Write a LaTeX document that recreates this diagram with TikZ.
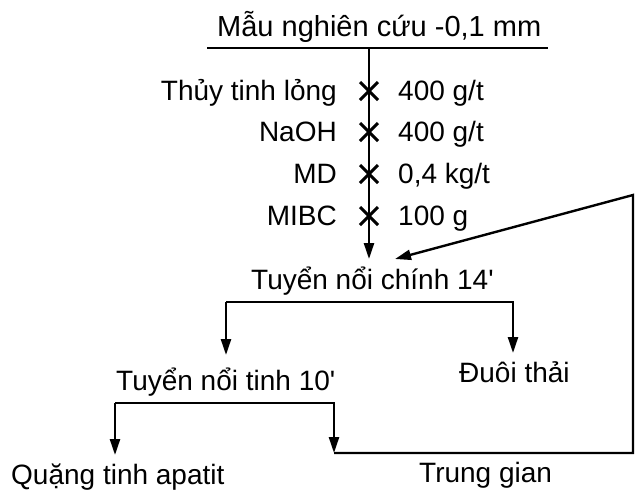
\documentclass[tikz,border=0pt]{standalone}
\usepackage{fontspec}
\setmainfont{Liberation Sans}
\usetikzlibrary{arrows.meta}
\begin{document}
\begin{tikzpicture}[x=1pt,y=-1pt,line width=2.4pt,
  lbl/.style={inner sep=0pt,font=\fontsize{28}{32}\selectfont},
  ttl/.style={inner sep=0pt,font=\fontsize{29}{33}\selectfont},
  arr/.style={-{Triangle[length=16pt,width=10pt]}},
  xmark/.style={line width=3pt}]
\useasboundingbox (0,0) rectangle (635,491);
% title
\node[ttl,anchor=base west] (title) at (216,36) {Mẫu nghiên cứu -0,1 mm};
\coordinate (tl) at (207,48);
\coordinate (tr) at (548,48);
\coordinate (top) at (369,48);
\draw (tl) -- (tr);
% reagents
\node[lbl,anchor=base east] (r1) at (338,100) {Thủy tinh lỏng};
\node[lbl,anchor=base east] (r2) at (338,141) {NaOH};
\node[lbl,anchor=base east] (r3) at (338,183) {MD};
\node[lbl,anchor=base east] (r4) at (338,225) {MIBC};
\node[lbl,anchor=base west] (d1) at (397,100) {400 g/t};
\node[lbl,anchor=base west] (d2) at (397,141) {400 g/t};
\node[lbl,anchor=base west] (d3) at (397,183) {0,4 kg/t};
\node[lbl,anchor=base west] (d4) at (397,225) {100 g};
\foreach \yy in {91,132,174,216}{
  \draw[xmark] (360,\yy-9) -- (378,\yy+9);
  \draw[xmark] (378,\yy-9) -- (360,\yy+9);
}
\coordinate (maintip) at (369,259);
\draw[arr] (top) -- (maintip);
% main flotation
\node[lbl,anchor=base west] (main) at (250,289) {Tuyển nổi chính 14\textquotesingle};
\coordinate (b1) at (226,302);
\coordinate (b2) at (513,302);
\coordinate (t1) at (226,355);
\coordinate (t2) at (513,353);
\draw[arr] (b1) -- (t1);
\draw[arr] (b1) -- (b2) -- (t2);
\node[lbl,anchor=base west] (clean) at (115,390) {Tuyển nổi tinh 10\textquotesingle};
\node[lbl,anchor=base west] (tail) at (458,382) {Đuôi thải};
% cleaner
\coordinate (c1) at (115,403);
\coordinate (c2) at (334,403);
\coordinate (ct1) at (115,455);
\coordinate (ct2) at (334,453);
\draw[arr] (c1) -- (ct1);
\draw[arr] (c1) -- (c2) -- (ct2);
\node[lbl,anchor=base west] (conc) at (10,484) {Quặng tinh apatit};
\node[lbl,anchor=base west] (mid) at (418,482) {Trung gian};
% recycle
\coordinate (rb) at (633,453);
\coordinate (rt) at (633,195);
\coordinate (fbtip) at (395,259);
\draw[arr] (ct2) -- (rb) -- (rt) -- (fbtip);
\end{tikzpicture}
\end{document}
